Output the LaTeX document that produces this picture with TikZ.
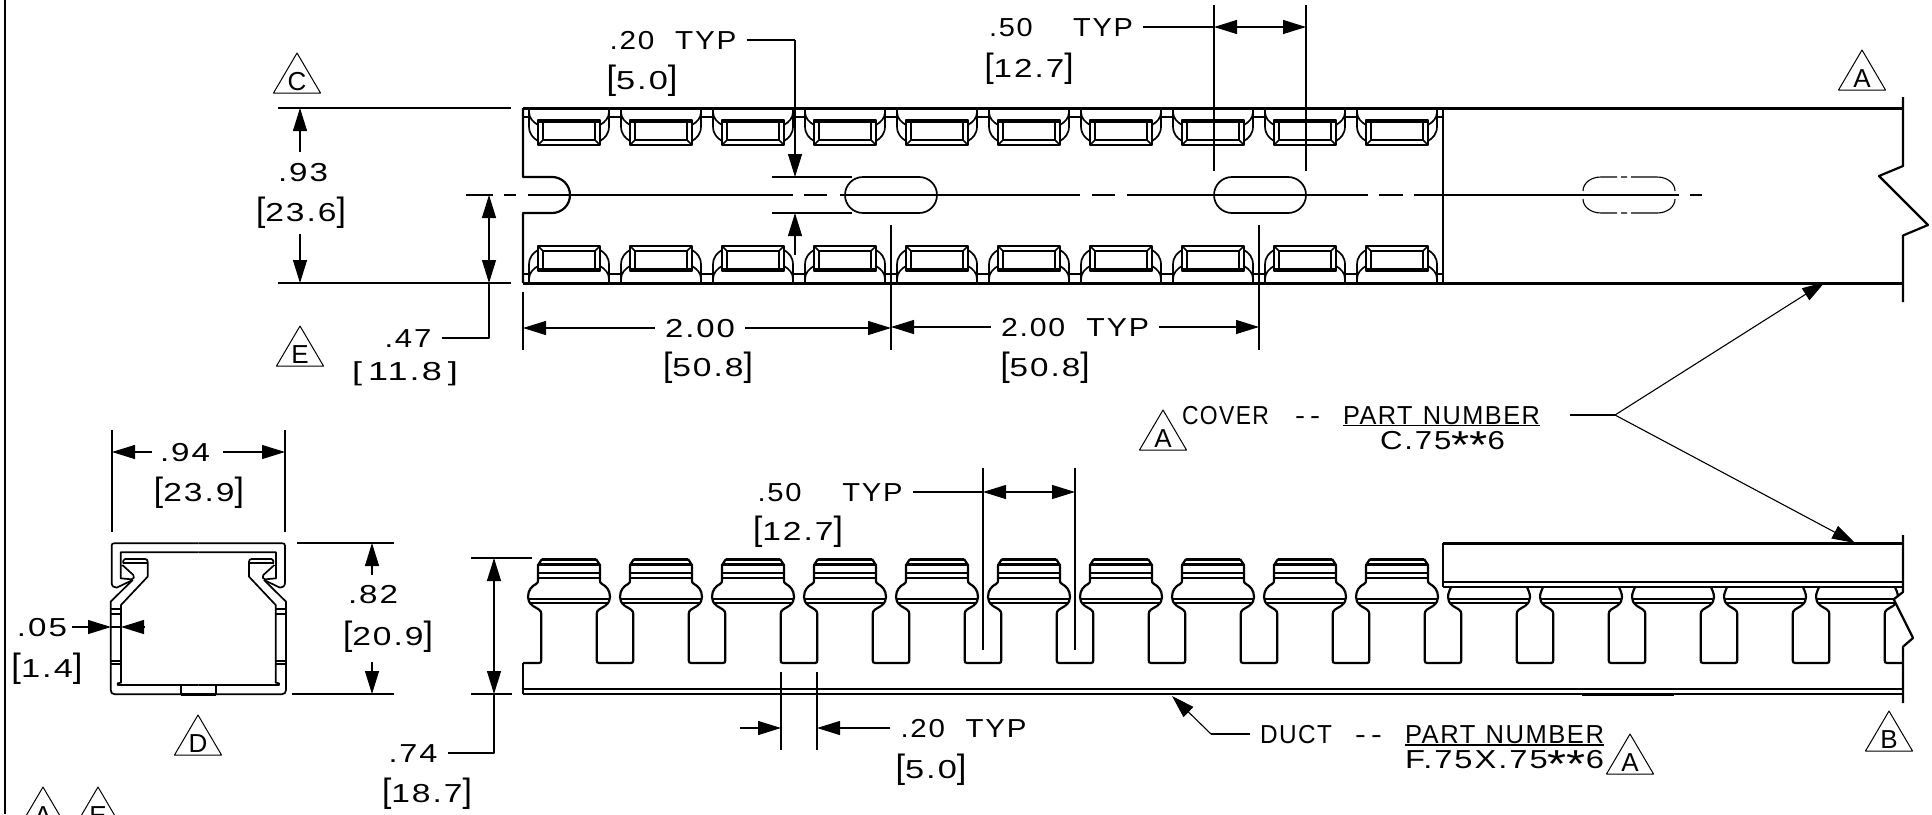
\documentclass[tikz,border=0pt]{standalone}
\usepackage{fontspec}
\usepackage{graphicx}
\setmainfont[LetterSpace=6]{Liberation Sans}
\usetikzlibrary{arrows.meta}
\newcommand{\fw}[2]{\resizebox{#1pt}{\height}{#2}}
\newcommand{\gp}{\hspace*{.7em}}
\newcommand{\st}{\raisebox{-9pt}{\scalebox{1.5}{*}}}
\newcommand{\lb}{\scalebox{1}[1.3]{[}}
\newcommand{\rb}{\scalebox{1}[1.3]{]}}
\tikzset{
  fine/.style={line width=1.1pt},
  body/.style={line width=1.7pt},
  mid/.style={line width=2.2pt},
  heavy/.style={line width=3pt},
  lbl/.style={inner sep=0pt,text height=18pt,text depth=0pt,anchor=center,font=\fontsize{26}{28}\selectfont},
  tri/.style={line width=1pt},
  ar/.style={fine,-{Triangle[length=23pt,width=14pt]}},
  arb/.style={fine,{Triangle[length=23pt,width=14pt]}-{Triangle[length=23pt,width=14pt]}}
}
% triangle callout: name, x, apex y, letter
\newcommand{\flag}[4]{%
  \draw[tri] (#2,#3) -- (#2+23.5,#3+40) -- (#2-23.5,#3+40) -- cycle;
  \node[lbl] (#1) at (#2,#3+28) {#4};
}
% slot outline: left end centre x, right end centre x
\newcommand{\slotshape}[2]{%
  \draw[body] (#1,177) -- (#2,177) .. controls (#2+10,177) and (#2+18,185) .. (#2+18,195) .. controls (#2+18,205) and (#2+10,213) .. (#2,213) -- (#1,213) .. controls (#1-10,213) and (#1-18,205) .. (#1-18,195) .. controls (#1-18,185) and (#1-10,177) .. (#1,177) -- cycle;
}
\begin{document}
\begin{tikzpicture}[x=1pt,y=-1pt,line join=round]
\useasboundingbox (0,0) rectangle (1932,814);
% frame edge
\draw[body] (5,0) -- (5,814);

%===== top view: clips
\newcommand{\clipshape}{%
  \draw[body] (-46,117) -- (-40,117) (40,117) -- (46,117);
  \draw[body] (-40,108) -- (-40,117) (40,108) -- (40,117);
  \foreach \s in {-1,1}{
   \draw[body] (\s*40,112) .. controls (\s*40,118) and (\s*36,122) .. (\s*31,125);
   \draw[body] (\s*40,117) -- (\s*40,126) .. controls (\s*40,134) and (\s*36,138) .. (\s*31,141);
   \draw[body] (\s*31,145) -- (\s*26,140) (\s*31,120) -- (\s*26,122);
  }
  \draw[body] (-31,120) rectangle (31,145);
  \draw[body] (-26,122) rectangle (26,140);
  \draw[heavy] (-31,121.5) -- (31,121.5);
}
\foreach \i in {0,...,9}{
 \begin{scope}[shift={(569+92*\i,0)}] \clipshape \end{scope}
 \begin{scope}[shift={(569+92*\i,391)},yscale=-1] \clipshape \end{scope}
}
\draw[heavy] (523,108) -- (1903,108);
\draw[heavy] (523,283) -- (1903,283);
\draw[body] (1443,108) -- (1443,283);
\draw[mid] (523,108) -- (523,177) -- (552,177) .. controls (562,177) and (570,185) .. (570,195) .. controls (570,205) and (562,213) .. (552,213) -- (523,213) -- (523,283);
\slotshape{863}{919}
\slotshape{1232}{1288}
% break, top view
\draw[mid] (1903,97) -- (1903,166) -- (1879,176) -- (1928,225) -- (1903,235.5) -- (1903,302);
% centre line
\foreach \a/\b in {466/493,504/516,528/793,804/827,840/1080,1092/1115,1127/1368,1379/1403,1414/1679,1690/1702}{
  \draw[fine] (\a,195) -- (\b,195);
}
% phantom slot
\draw[fine] (1583,191) .. controls (1583,183) and (1591,177) .. (1601,177) -- (1617,177);
\draw[fine] (1621,177) -- (1627,177) (1631,177) -- (1657,177) .. controls (1667,177) and (1675,183) .. (1675,191);
\draw[fine] (1583,199) .. controls (1583,207) and (1591,213) .. (1601,213) -- (1617,213);
\draw[fine] (1621,213) -- (1627,213) (1631,213) -- (1657,213) .. controls (1667,213) and (1675,207) .. (1675,199);

%===== lower view
\newcommand{\stemside}{%
  \draw[mid] (-46,663) -- (-30,663) .. controls (-28,663) and (-27.7,662) .. (-27.7,660) -- (-27.7,614) .. controls (-27.7,610) and (-31,609) .. (-36,606);
}
\newcommand{\headside}{%
  \draw[mid] (-36,606) .. controls (-40,603) and (-41,600) .. (-41,597) .. controls (-41,590) and (-37,586) .. (-33,584) .. controls (-31,583) and (-31,582) .. (-31,580) -- (-31,565) -- (-27,559);
}
\newcommand{\fullhead}{%
  \foreach \s in {1,-1}{\begin{scope}[xscale=\s]\stemside\headside\end{scope}}
  \draw[heavy] (-27,559) -- (27,559);
  \draw[mid] (-31,564.5) -- (31,564.5);
  \draw[body] (-31,573) -- (31,573) (-31,577.7) -- (31,577.7);
  \draw[body] (-40.5,599) -- (40.5,599);
  \draw[mid] (-38.5,602.7) -- (38.5,602.7);
}
\newcommand{\coveredhead}{%
  \foreach \s in {1,-1}{\begin{scope}[xscale=\s]\stemside
   \draw[mid] (-36,606) .. controls (-40,603) and (-41,600) .. (-41,597) .. controls (-41,593) and (-39,590) .. (-38,587);
  \end{scope}}
  \draw[body] (-40.5,599) -- (40.5,599);
  \draw[mid] (-38.5,602.7) -- (38.5,602.7);
}
\foreach \i in {0,...,9}{\begin{scope}[shift={(569+92*\i,0)}] \fullhead \end{scope}}
\foreach \i in {10,...,13}{\begin{scope}[shift={(569+92*\i,0)}] \coveredhead \end{scope}}
\begin{scope}
 \clip (1800,580) -- (1902,580) -- (1902,592) -- (1893.7,599.3) -- (1913,638) -- (1903,646.7) -- (1903,670) -- (1800,670) -- cycle;
 \begin{scope}[shift={(569+92*14,0)}] \coveredhead \end{scope}
\end{scope}
\draw[heavy] (1443,543) -- (1903,543);
\draw[body] (1443,543) -- (1443,587);
\draw[mid] (1443,582) -- (1903,582);
\draw[body] (1443,587) -- (1903,587);
\draw[mid] (1903,535) -- (1903,592) -- (1893.7,599.3) -- (1913,638) -- (1903,646.7) -- (1903,703);
\draw[mid] (523,663) -- (523,694);
\draw[mid] (523,689) -- (1903,689);
\draw[body] (523,694) -- (1903,694);
\draw[heavy] (1582,694.5) -- (1674,694.5);

%===== cross-section
\foreach \sx/\ox in {1/90,-1/306.667}{
\begin{scope}[shift={(\ox,520)},xscale=\sx,x=0.3333pt,y=-0.3333pt]
 \draw[body] (325,70) -- (72,70) .. controls (68,70) and (65,72) .. (65,77) -- (65,188) .. controls (65,198) and (72,204) .. (80,203) -- (128,180);
 \draw[body] (325,97) -- (92,97) -- (92,175) -- (125,178) .. controls (132,178) and (134,170) .. (130,165) -- (97,135);
 \draw[body] (100,130) -- (100,122) .. controls (100,119) and (102,117) .. (105,117) -- (165,117) .. controls (170,117) and (173,120) .. (173,125) -- (173,170) -- (93,255) -- (93,488) -- (83,490) -- (83,495) -- (325,495);
 \draw[body] (98,130) -- (170,130);
 \draw[body] (128,180) -- (62,245) -- (62,510) .. controls (62,518) and (67,523) .. (75,523) -- (325,523);
 \draw[body] (62,267) -- (93,267) (62,282) -- (93,282) (62,432) -- (93,432);
 \draw[mid] (62,424) -- (93,424);
 \draw[body] (272,495) -- (272,523);
 \draw[heavy] (272,523) -- (325,523);
\end{scope}}

%===== callout triangles
\flag{fC}{297}{53}{C}
\flag{fA1}{1862}{50}{A}
\flag{fE1}{300}{326}{E}
\flag{fA2}{1163}{410}{A}
\flag{fD}{198}{715}{D}
\flag{fB}{1889}{711}{B}
\flag{fA3}{1630}{734}{A}
\flag{fA4}{43}{787}{A}
\flag{fE2}{98}{787}{E}

%===== labels
\node[lbl] (t20a) at (673,40) {\fw{127}{.20\gp TYP}};
\node[lbl] (t20b) at (642,80) {\fw{71}{\lb 5.0\rb}};
\node[lbl] (t50a) at (1061,27) {\fw{144}{.50\gp\gp TYP}};
\node[lbl] (t50b) at (1029,68) {\fw{89}{\lb 12.7\rb}};
\node[lbl] (t93a) at (303,172) {\fw{50}{.93}};
\node[lbl] (t93b) at (301,212) {\fw{90}{\lb 23.6\rb}};
\node[lbl] (t47a) at (408,338) {\fw{47}{.47}};
\node[lbl] (t47b) at (405,371) {\fw{106}{[\,11.8\,]}};
\node[lbl] (t200a) at (700,328) {\fw{70}{2.00}};
\node[lbl] (t200b) at (708,367) {\fw{90}{\lb 50.8\rb}};
\node[lbl] (t201a) at (1075,327) {\fw{148}{2.00\gp TYP}};
\node[lbl] (t201b) at (1045,367) {\fw{89}{\lb 50.8\rb}};
\node[lbl] (tcov) at (1225.5,415) {\fw{87}{COVER}};
\node[lbl] (tcovd) at (1307.5,415) {\fw{25}{-\,-}};
\node[lbl] (tcovp) at (1441.5,415) {\fw{197}{PART\hspace*{.4em}NUMBER}};
\node[lbl] (tcovn) at (1442.5,440) {\fw{125}{C.75\st\st 6}};
\node[lbl] (t94a) at (185,452) {\fw{50}{.94}};
\node[lbl] (t94b) at (199,492) {\fw{90}{\lb 23.9\rb}};
\node[lbl] (t82a) at (373,594) {\fw{50}{.82}};
\node[lbl] (t82b) at (388,636) {\fw{90}{\lb 20.9\rb}};
\node[lbl] (t05a) at (42,627) {\fw{50}{.05}};
\node[lbl] (t05b) at (47,668) {\fw{71}{\lb 1.4\rb}};
\node[lbl] (t74a) at (413,753) {\fw{49}{.74}};
\node[lbl] (t74b) at (427,793) {\fw{90}{\lb 18.7\rb}};
\node[lbl] (t50c) at (830,492) {\fw{145}{.50\gp\gp TYP}};
\node[lbl] (t50d) at (798,531) {\fw{90}{\lb 12.7\rb}};
\node[lbl] (t20c) at (963.5,728) {\fw{126}{.20\gp TYP}};
\node[lbl] (t20d) at (931,769) {\fw{71}{\lb 5.0\rb}};
\node[lbl] (tduct) at (1296,734) {\fw{72}{DUCT}};
\node[lbl] (tductd) at (1368.5,734) {\fw{27}{-\,-}};
\node[lbl] (tductp) at (1504.5,734) {\fw{199}{PART\hspace*{.4em}NUMBER}};
\node[lbl] (tductn) at (1504.5,759) {\fw{199}{F.75X.75\st\st 6}};
\draw[fine] (tcovp.west |- 0,425.5) -- (tcovp.east |- 0,425.5);
\draw[fine] (tductp.west |- 0,745) -- (tductp.east |- 0,745);

%===== extension lines
\draw[fine] (278,108) -- (511,108) (278,283) -- (511,283);
\draw[fine] (772,177) -- (852,177) (772,213) -- (852,213);
\draw[fine] (1214,5) -- (1214,171) (1306,5) -- (1306,171);
\draw[fine] (523,292) -- (523,350) (891,225) -- (891,350) (1259,225) -- (1259,350);
\draw[fine] (112,430) -- (112,532) (285,430) -- (285,532);
\draw[fine] (297,543) -- (394,543) (292,694) -- (394,694);
\draw[fine] (471,558) -- (532,558) (471,694) -- (512,694);
\draw[fine] (983,468) -- (983,650) (1075,468) -- (1075,650);
\draw[fine] (781,672) -- (781,750) (817,672) -- (817,750);

%===== dimensions
\coordinate (d20) at (795,40);
\draw[fine] ([xshift=10pt]t20a.east) -- (d20);
\draw[ar] (d20) -- (795,177);
\draw[ar] (795,255) -- (795,213);
\draw[fine] ([xshift=10pt]t50a.east) -- (1214,27);
\draw[arb] (1214,27) -- (1306,27);
\draw[ar] (300,152) -- (300,108);
\draw[ar] (300,234) -- (300,283);
\draw[arb] (489,195) -- (489,283);
\draw[fine] ([xshift=10pt]t47a.east) -- (489,338) -- (489,283);
\draw[ar] ([xshift=-10pt]t200a.west) -- (523,328);
\draw[ar] ([xshift=10pt]t200a.east) -- (891,328);
\draw[ar] ([xshift=-10pt]t201a.west) -- (891,327);
\draw[ar] ([xshift=10pt]t201a.east) -- (1259,327);
\coordinate (cv) at (1615,415);
\draw[fine] ([xshift=30pt]tcovp.east) -- (cv);
\draw[ar] (cv) -- (1825,282);
\draw[ar] (cv) -- (1855,543);
\draw[ar] ([xshift=-8pt]t94a.west) -- (112,452);
\draw[ar] ([xshift=13pt]t94a.east) -- (285,452);
\draw[ar] (372,575) -- (372,543);
\draw[ar] (372,662) -- (372,694);
\draw[ar] ([xshift=5pt]t05a.east) -- (111,627);
\draw[ar] (144,627) -- (121,627);
\draw[fine] (111,627) -- (121,627);
\draw[arb] (494,558) -- (494,694);
\draw[fine] ([xshift=10pt]t74a.east) -- (494,753) -- (494,694);
\draw[fine] ([xshift=10pt]t50c.east) -- (983,492);
\draw[arb] (983,492) -- (1075,492);
\draw[ar] (740,728) -- (781,728);
\draw[ar] ([xshift=-10pt]t20c.west) -- (817,728);
\coordinate (dk) at (1211,734);
\draw[fine] ([xshift=-10pt]tduct.west) -- (dk);
\draw[ar] (dk) -- (1172,696);
\end{tikzpicture}
\end{document}
